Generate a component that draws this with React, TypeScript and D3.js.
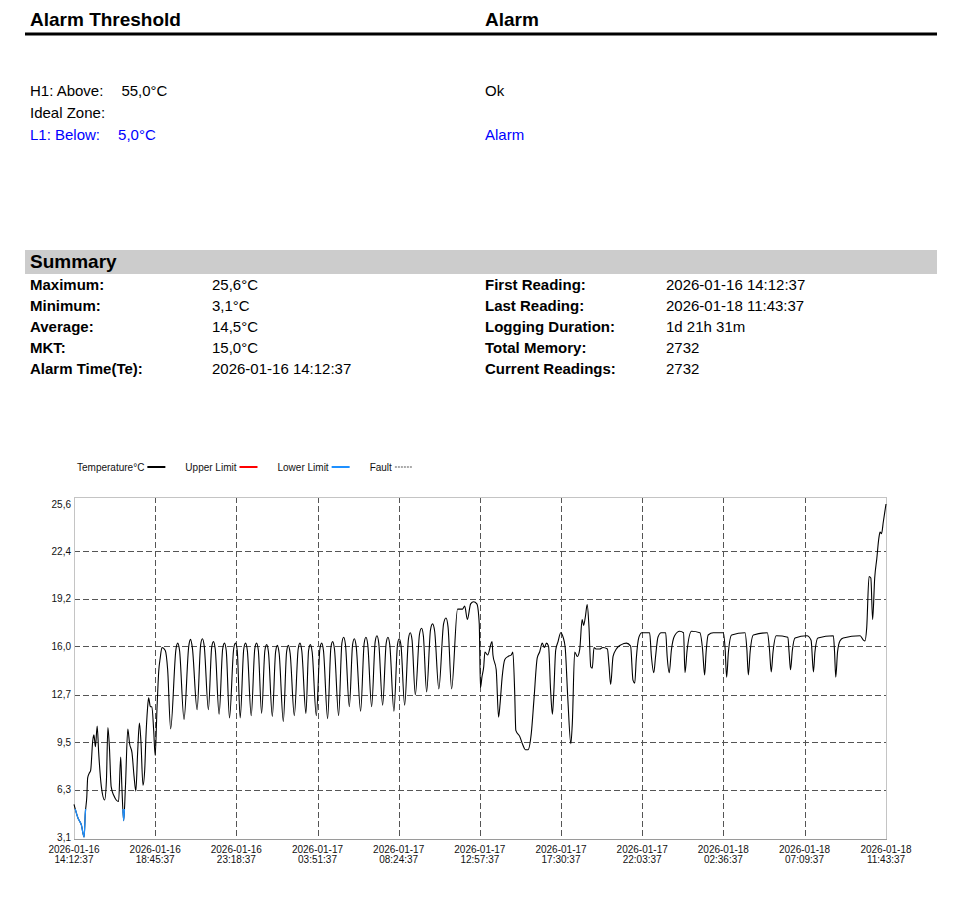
import React, { useEffect, useRef } from "react";
import * as d3 from "d3";

const FONT = "'Liberation Sans', Arial, Helvetica, sans-serif";

// Alarm threshold block
const thresholdLabels = ["H1: Above:", "Ideal Zone:", "L1: Below:"];
const thresholdValues = ["55,0°C", "", "5,0°C"];
const thresholdStatus = ["Ok", "", "Alarm"];
const lowerLimit = 5.0;

// Summary block
const summaryLeftLabels = ["Maximum:", "Minimum:", "Average:", "MKT:", "Alarm Time(Te):"];
const summaryLeftValues = ["25,6°C", "3,1°C", "14,5°C", "15,0°C", "2026-01-16 14:12:37"];
const summaryRightLabels = [
  "First Reading:",
  "Last Reading:",
  "Logging Duration:",
  "Total Memory:",
  "Current Readings:",
];
const summaryRightValues = ["2026-01-16 14:12:37", "2026-01-18 11:43:37", "1d 21h 31m", "2732", "2732"];

// Chart axes
const yTickValues = [3.1, 6.3, 9.5, 12.7, 16.0, 19.2, 22.4, 25.6];
const xTickMinutes = [0, 273, 546, 819, 1092, 1365, 1638, 1911, 2184, 2457, 2731];
const xTickDates = [
  "2026-01-16", "2026-01-16", "2026-01-16", "2026-01-17", "2026-01-17", "2026-01-17",
  "2026-01-17", "2026-01-17", "2026-01-18", "2026-01-18", "2026-01-18",
];
const xTickTimes = [
  "14:12:37", "18:45:37", "23:18:37", "03:51:37", "08:24:37", "12:57:37",
  "17:30:37", "22:03:37", "02:36:37", "07:09:37", "11:43:37",
];

const legendLabels = ["Temperature°C", "Upper Limit", "Lower Limit", "Fault"];
const legendColors = ["#000000", "#ff0000", "#1e90ff", "#aaaaaa"];

// Readings (minutes after first reading, °C)
const readingMinutes = [
  0, 13, 25, 34, 38, 43, 46, 51, 56, 63, 67, 72, 78, 83, 92, 103, 109, 114, 119, 125,
  134, 142, 150, 157, 161, 167, 173, 181, 187, 195, 202, 208, 214, 220, 225, 232, 238, 242, 247, 251,
  257, 262, 268, 273, 279, 285, 290, 296, 307, 315, 325,
  343, 349, 355, 370, 386, 392, 398, 414, 426, 432, 438, 452, 463, 469, 475, 488,
  500, 506, 512, 523, 537, 543, 549, 559, 571, 577, 583, 596, 608, 614, 620, 631,
  642, 648, 654, 667, 678, 684, 690, 704, 715, 721, 727, 741, 754, 760, 766, 780,
  789, 795, 801, 815, 827, 833, 839, 853, 864, 870, 876, 890, 901, 907, 913, 926,
  937, 943, 949, 964, 976, 982, 988, 1001, 1013, 1019, 1025, 1038, 1050, 1056, 1062, 1076,
  1088, 1094, 1100, 1112, 1125, 1131, 1137, 1148, 1162, 1169, 1175, 1186, 1199, 1206, 1213, 1227,
  1243, 1251, 1258, 1270,
  1290, 1307, 1314, 1323, 1334, 1344, 1355, 1363, 1367,
  1372, 1378, 1382, 1391, 1406, 1409, 1420, 1428, 1433, 1440, 1449, 1460, 1471, 1476, 1482, 1486,
  1499, 1510, 1518, 1527, 1538, 1547, 1558, 1566, 1575, 1582, 1589, 1596, 1603, 1609, 1614, 1620,
  1628, 1637, 1645, 1652, 1661, 1671, 1676, 1684, 1693, 1701, 1709, 1714, 1720, 1726, 1732, 1738,
  1743, 1749, 1757, 1768, 1779, 1794, 1799, 1805, 1813, 1824, 1841, 1858, 1872, 1880, 1886, 1891,
  1900, 1910, 1936, 1942, 1950, 1956, 1964, 1975, 1990, 1995, 2002, 2009, 2020, 2037, 2050, 2055,
  2062, 2077, 2105, 2114, 2121, 2126, 2133, 2150, 2184, 2190, 2195, 2201, 2212, 2257, 2263, 2268,
  2274, 2285, 2332, 2339, 2345, 2351, 2362, 2401, 2405, 2410, 2416, 2425, 2465, 2479, 2487, 2492,
  2502, 2554, 2558, 2562, 2568, 2576, 2587, 2644, 2655, 2660, 2666, 2674, 2680, 2686, 2693, 2700,
  2707, 2711, 2716, 2722, 2731,
];
const readingTemps = [
  5.3, 4.4, 3.9, 3.1, 4.7, 5.8, 7.1, 7.4, 7.6, 9.6, 10.0, 9.2, 10.6, 8.8, 6.5, 5.6, 6.9, 10.5, 9.2, 6.5,
  5.9, 5.6, 5.5, 8.5, 6.5, 4.2, 6.5, 10.4, 9.4, 8.8, 7.2, 6.2, 8.8, 10.8, 9.6, 6.6, 7.7, 9.9, 11.7, 12.5,
  11.9, 11.9, 10.3, 8.6, 11.7, 14.3, 15.2, 15.9, 15.7, 14.4, 10.4,
  15.8, 16.2, 15.7, 11.05, 16.0, 16.45, 15.9, 11.7, 16.1, 16.5, 16.0, 11.7, 15.9, 16.3, 15.8, 11.4,
  15.8, 16.2, 15.7, 11.15, 15.8, 16.2, 15.7, 11.15, 15.8, 16.2, 15.7, 11.3, 15.8, 16.2, 15.7, 11.45,
  15.7, 16.1, 15.6, 11.25, 15.6, 16.05, 15.5, 10.9, 15.6, 16.05, 15.5, 11.3, 15.8, 16.2, 15.7, 11.45,
  15.7, 16.1, 15.6, 11.3, 15.8, 16.2, 15.7, 11.1, 15.9, 16.3, 15.8, 11.3, 16.2, 16.6, 16.1, 11.9,
  16.1, 16.5, 16.0, 11.6, 16.2, 16.6, 16.1, 11.9, 16.3, 16.7, 16.2, 12.0, 16.2, 16.6, 16.1, 11.6,
  16.1, 16.5, 16.0, 12.0, 16.5, 16.9, 16.4, 12.7, 16.8, 17.2, 16.7, 12.9, 17.1, 17.5, 17.0, 13.1,
  17.5, 17.9, 17.3, 13.1,
  18.5, 18.5, 18.7, 17.8, 18.85, 19.0, 18.85, 17.5, 13.2,
  13.9, 14.6, 15.6, 15.4, 16.3, 15.4, 14.4, 11.2, 12.1, 13.9, 15.1, 15.3, 15.4, 15.6, 13.0, 10.3,
  9.9, 9.3, 9.0, 9.0, 10.1, 12.4, 15.2, 15.6, 16.2, 15.9, 16.2, 16.0, 13.0, 11.4, 13.0, 15.7,
  16.3, 16.9, 16.6, 15.9, 12.4, 9.4, 10.8, 15.6, 15.3, 15.8, 17.8, 17.4, 18.0, 18.8, 17.3, 14.6,
  14.5, 15.9, 15.8, 15.8, 15.9, 15.8, 14.8, 13.4, 15.3, 15.8, 16.1, 16.2, 16.0, 13.7, 13.5, 15.1,
  16.6, 16.9, 16.9, 15.3, 14.2, 15.3, 16.6, 16.9, 16.9, 15.3, 14.2, 15.7, 16.7, 17.0, 16.9, 14.2,
  15.7, 17.0, 16.9, 15.8, 14.05, 15.6, 16.75, 16.9, 16.9, 15.8, 13.9, 15.6, 16.75, 16.9, 15.8, 14.05,
  15.6, 16.75, 16.9, 15.8, 14.25, 15.6, 16.7, 16.6, 15.6, 14.4, 15.7, 16.55, 16.7, 16.4, 14.25, 15.6,
  16.55, 16.7, 15.6, 13.9, 15.6, 16.35, 16.55, 16.7, 16.4, 16.35, 17.2, 20.7, 20.6, 17.8, 20.6, 21.9,
  23.3, 23.7, 23.6, 24.4, 25.6,
];

const App: React.FC = () => {
  const chartRef = useRef<SVGGElement>(null);

  useEffect(() => {
    document.body.style.margin = "0";
    if (!chartRef.current) return;

    const g = d3.select(chartRef.current);
    g.selectAll("*").remove();

    const plot = { left: 74, right: 886, top: 497, bottom: 839 };

    const x = d3
      .scaleLinear()
      .domain([xTickMinutes[0], xTickMinutes[xTickMinutes.length - 1]])
      .range([plot.left, plot.right]);
    const y = d3
      .scaleLinear()
      .domain([yTickValues[0], yTickValues[yTickValues.length - 1]])
      .range([plot.bottom - 2, plot.top + 7]);

    // Legend
    const legend = g.append("g").attr("font-size", "10px").attr("fill", "#111");
    let lx = 77;
    legendLabels.forEach((label, i) => {
      const t = legend.append("text").attr("x", lx).attr("y", 470.5).text(label);
      const w = (t.node() as SVGTextElement).getComputedTextLength();
      const x1 = lx + w + 3;
      const x2 = x1 + 18;
      legend
        .append("line")
        .attr("x1", x1)
        .attr("x2", x2)
        .attr("y1", 467)
        .attr("y2", 467)
        .attr("stroke", legendColors[i])
        .attr("stroke-width", 2)
        .attr("stroke-dasharray", label === "Fault" ? "2,1" : null);
      lx = x2 + 20;
    });

    // Grid
    g.append("g")
      .selectAll("line")
      .data(yTickValues.slice(1, -1))
      .join("line")
      .attr("x1", plot.left)
      .attr("x2", plot.right)
      .attr("y1", (d) => Math.round(y(d)) + 0.5)
      .attr("y2", (d) => Math.round(y(d)) + 0.5)
      .attr("stroke", "#555")
      .attr("stroke-dasharray", "6,3");

    g.append("g")
      .selectAll("line")
      .data(xTickMinutes.slice(1, -1))
      .join("line")
      .attr("x1", (d) => Math.round(x(d)) + 0.5)
      .attr("x2", (d) => Math.round(x(d)) + 0.5)
      .attr("y1", plot.top)
      .attr("y2", plot.bottom)
      .attr("stroke", "#555")
      .attr("stroke-dasharray", "6,3");

    // Frame
    g.append("rect")
      .attr("x", plot.left + 0.5)
      .attr("y", plot.top + 0.5)
      .attr("width", plot.right - plot.left)
      .attr("height", plot.bottom - plot.top)
      .attr("fill", "none")
      .attr("stroke", "#c4c4c4");
    g.append("line")
      .attr("x1", plot.left)
      .attr("x2", plot.right + 1)
      .attr("y1", plot.bottom + 0.5)
      .attr("y2", plot.bottom + 0.5)
      .attr("stroke", "#9a9a9a");

    // Y tick labels
    g.append("g")
      .attr("font-size", "10px")
      .attr("fill", "#111")
      .attr("text-anchor", "end")
      .selectAll("text")
      .data(yTickValues)
      .join("text")
      .attr("x", 71)
      .attr("y", (d) => y(d) + 3.5)
      .text((d) => d.toFixed(1).replace(".", ","));

    // X tick labels
    const xl = g
      .append("g")
      .attr("font-size", "10px")
      .attr("fill", "#111")
      .attr("text-anchor", "middle")
      .selectAll("g")
      .data(xTickMinutes)
      .join("g");
    xl.append("text")
      .attr("x", (d) => x(d))
      .attr("y", 852.5)
      .text((_, i) => xTickDates[i]);
    xl.append("text")
      .attr("x", (d) => x(d))
      .attr("y", 863)
      .text((_, i) => xTickTimes[i]);

    // Temperature line, blue below lower limit
    const line = d3
      .line<number>()
      .x((_, i) => x(readingMinutes[i]))
      .y((d) => y(d))
      .curve(d3.curveMonotoneX);

    g.append("clipPath")
      .attr("id", "below-limit")
      .append("rect")
      .attr("x", plot.left)
      .attr("y", y(lowerLimit))
      .attr("width", plot.right - plot.left)
      .attr("height", plot.bottom - y(lowerLimit));

    g.append("path")
      .datum(readingTemps)
      .attr("d", line)
      .attr("fill", "none")
      .attr("stroke", "#000")
      .attr("stroke-width", 1.1)
      .attr("stroke-linejoin", "round");

    g.append("path")
      .datum(readingTemps)
      .attr("d", line)
      .attr("fill", "none")
      .attr("stroke", "#1e90ff")
      .attr("stroke-width", 1.3)
      .attr("clip-path", "url(#below-limit)");
  }, []);

  const rowY = [95.5, 117.5, 139.5];
  const sumY = [289.5, 310.5, 331.5, 352.5, 373.5];

  return (
    <svg width={960} height={914} style={{ display: "block", background: "#fff" }} fontFamily={FONT}>
      {/* Alarm threshold header */}
      <text x={30} y={26} fontSize={19} fontWeight="bold">
        Alarm Threshold
      </text>
      <text x={485} y={26} fontSize={19} fontWeight="bold">
        Alarm
      </text>
      <rect x={25} y={32.5} width={912} height={3} fill="#000" />

      {thresholdLabels.map((label, i) => (
        <g key={label} fill={i === 2 ? "#0000ff" : "#000"} fontSize={15}>
          <text x={30} y={rowY[i]}>
            <tspan>{label}</tspan>
            {thresholdValues[i] && <tspan dx={18}>{thresholdValues[i]}</tspan>}
          </text>
          {thresholdStatus[i] && (
            <text x={485} y={rowY[i]}>
              {thresholdStatus[i]}
            </text>
          )}
        </g>
      ))}

      {/* Summary */}
      <rect x={25} y={250} width={912} height={24} fill="#cccccc" />
      <text x={30} y={268} fontSize={19} fontWeight="bold">
        Summary
      </text>
      {summaryLeftLabels.map((label, i) => (
        <g key={label} fontSize={15}>
          <text x={30} y={sumY[i]} fontWeight="bold">
            {label}
          </text>
          <text x={212} y={sumY[i]}>
            {summaryLeftValues[i]}
          </text>
          <text x={485} y={sumY[i]} fontWeight="bold">
            {summaryRightLabels[i]}
          </text>
          <text x={666} y={sumY[i]}>
            {summaryRightValues[i]}
          </text>
        </g>
      ))}

      <g ref={chartRef} />
    </svg>
  );
};

export default App;
